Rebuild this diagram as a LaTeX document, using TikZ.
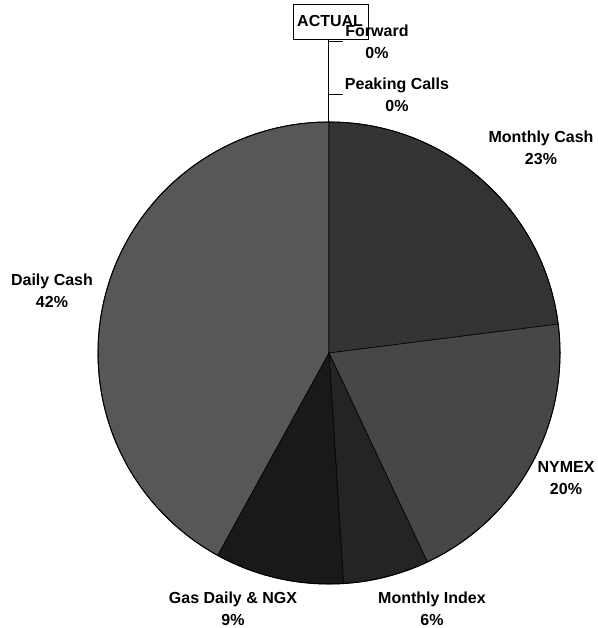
\documentclass[tikz,border=0pt]{standalone}
\usepackage{fontspec}
\setmainfont{Liberation Sans}
\begin{document}
\begin{tikzpicture}[x=1pt,y=1pt,
  lbl/.style={font=\bfseries\fontsize{16}{22}\selectfont, align=center, inner sep=0pt},
  slice/.style={draw=black, line width=0.6pt},
  leader/.style={draw=black, line width=1pt}]
\useasboundingbox (0,0) rectangle (597,628);
\coordinate (c) at (329,275);
\def\R{231}
% slices
\filldraw[slice, fill=black!66] (c) -- ++(90:\R) arc[start angle=90, end angle=241.2, radius=\R] -- cycle;
\filldraw[slice, fill=black!80] (c) -- ++(7.2:\R) arc[start angle=7.2, end angle=90, radius=\R] -- cycle;
\filldraw[slice, fill=black!72] (c) -- ++(-64.8:\R) arc[start angle=-64.8, end angle=7.2, radius=\R] -- cycle;
\filldraw[slice, fill=black!86] (c) -- ++(-86.4:\R) arc[start angle=-86.4, end angle=-64.8, radius=\R] -- cycle;
\filldraw[slice, fill=black!90] (c) -- ++(-118.8:\R) arc[start angle=-118.8, end angle=-86.4, radius=\R] -- cycle;
\draw[black, line width=1pt] (c) circle[radius=\R];
% title box
\node[draw=black, line width=1pt, minimum width=75pt, minimum height=35pt, inner sep=0pt, anchor=south west] (title) at (293,588) {};
\node[font=\bfseries\fontsize{16}{18}\selectfont, inner sep=0pt, anchor=west] (titletext) at (297,607) {ACTUAL};
% labels
\node[lbl] (fwd) at (377,586) {Forward\\0\%};
\node[lbl] (peak) at (397,533) {Peaking Calls\\0\%};
\node[lbl] (mcash) at (541,480) {Monthly Cash\\23\%};
\node[lbl] (dcash) at (52,337) {Daily Cash\\42\%};
\node[lbl] (nymex) at (566,150) {NYMEX\\20\%};
\node[lbl] (mindex) at (432,19) {Monthly Index\\6\%};
\node[lbl] (gasd) at (233,19) {Gas Daily \& NGX\\9\%};
% leader lines
\coordinate (top) at (328,506);
\coordinate (lt) at (328,588);
\coordinate (t1) at (328,586);
\coordinate (t1e) at (343,586);
\coordinate (t2) at (328,533);
\coordinate (t2e) at (343,533);
\draw[leader] (lt) -- (top);
\draw[leader] (t1) -- (t1e);
\draw[leader] (t2) -- (t2e);
\end{tikzpicture}
\end{document}
